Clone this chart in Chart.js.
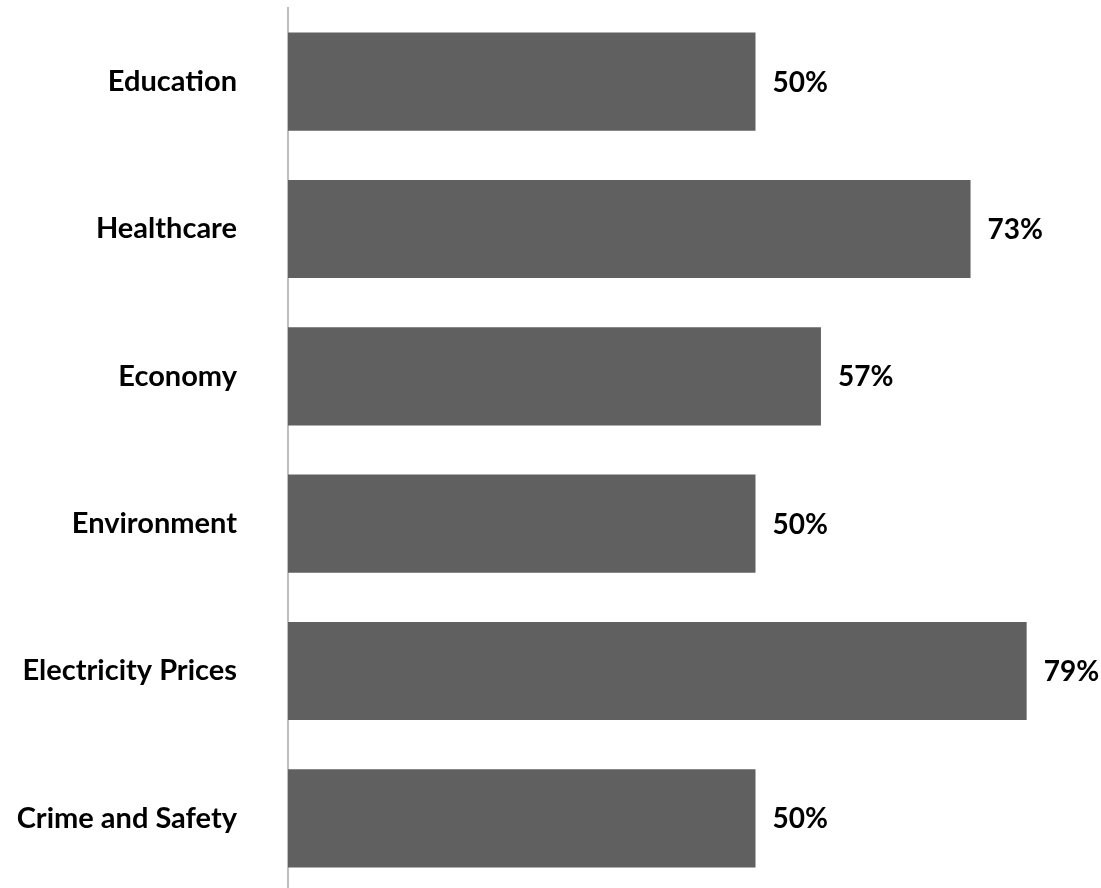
<!DOCTYPE html>
<html lang="en">
<head>
    <meta charset="UTF-8">
    <title>Issues</title>
    <script src="https://cdn.jsdelivr.net/npm/chart.js"></script>
    <style>
        html, body { margin: 0; padding: 0; background: #ffffff; overflow: hidden; }
        canvas { display: block; }
    </style>
</head>
<body>
    <!-- o eixo passa um pouco da borda de baixo da página -->
    <canvas id="grafico_barras" width="1101" height="892"></canvas>

<script>
// categorias e valores (%)
const categorias = ['Education', 'Healthcare', 'Economy', 'Environment', 'Electricity Prices', 'Crime and Safety'];
const valores = [50, 73, 57, 50, 79, 50];

const fonte = { family: 'Lato', weight: 'bold', size: 29 };

// escreve o valor ao lado de cada barra
const rotulosValores = {
    id: 'rotulosValores',
    afterDatasetsDraw(chart) {
        const ctx = chart.ctx;
        const meta = chart.getDatasetMeta(0);
        ctx.save();
        ctx.font = 'bold 28px Lato';
        ctx.fillStyle = '#000000';
        ctx.textAlign = 'left';
        ctx.textBaseline = 'middle';
        meta.data.forEach(function (barra, i) {
            ctx.fillText(valores[i] + '%', barra.x + 17, barra.y + 1);
        });
        ctx.restore();
    }
};

const config_grafico_barras = {
    type: 'bar',
    data: {
        labels: categorias,
        datasets: [{
            data: valores,
            backgroundColor: '#606060',
            borderWidth: 0,
            barPercentage: 0.666,
            categoryPercentage: 1
        }]
    },
    options: {
        indexAxis: 'y',
        responsive: false,
        animation: false,
        layout: { padding: { top: 8, right: 65, bottom: 0, left: 0 } },
        plugins: {
            legend: { display: false },
            tooltip: { enabled: false }
        },
        scales: {
            x: {
                display: false,
                min: 0,
                max: 80
            },
            y: {
                // largura fixa do eixo e sem folga extra em cima/embaixo
                afterFit: function (scale) {
                    scale.width = 288;
                    scale.paddingTop = 0;
                    scale.paddingBottom = 0;
                },
                grid: { display: false, drawTicks: false },
                border: { display: true, color: '#bfbfbf', width: 2 },
                ticks: { color: '#000000', font: fonte, padding: 51 }
            }
        }
    },
    plugins: [rotulosValores]
};

const GraficoBarras = new Chart(document.getElementById('grafico_barras'), config_grafico_barras);
</script>
</body>
</html>
